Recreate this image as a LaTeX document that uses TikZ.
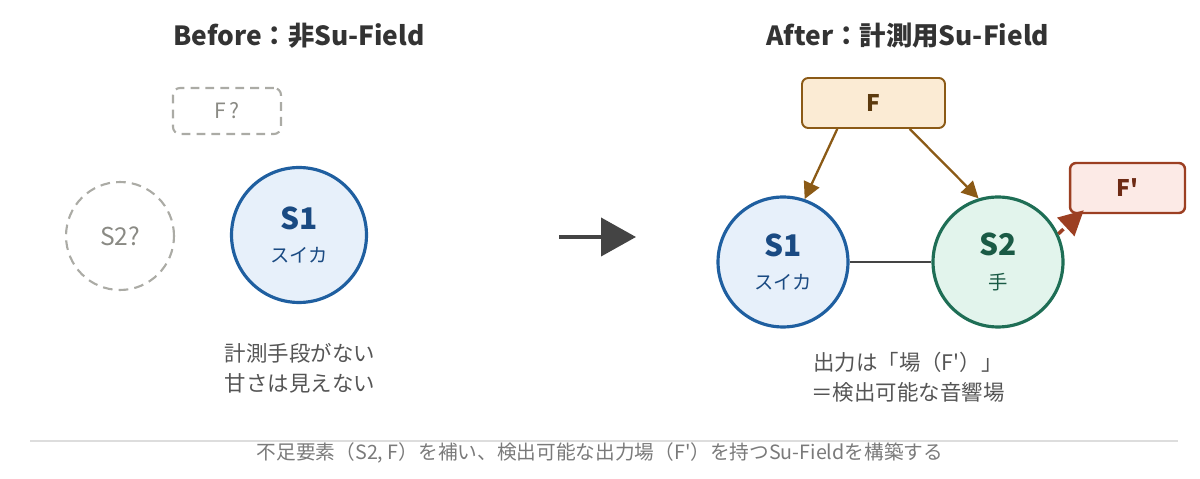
\documentclass[tikz,border=0pt]{standalone}
\usepackage{fontspec}
\setmainfont{Noto Sans CJK JP}[Ligatures=TeXOff]
\usetikzlibrary{calc, positioning, arrows.meta, shapes}

\definecolor{titlegray}{HTML}{333333}
\definecolor{ghost}{HTML}{ABABA5}
\definecolor{ghosttext}{HTML}{8A8A84}
\definecolor{sblue}{HTML}{1F5FA0}
\definecolor{sbluefill}{HTML}{E7F0FA}
\definecolor{sbluetext}{HTML}{1A4A82}
\definecolor{sgreen}{HTML}{1E6E55}
\definecolor{sgreenfill}{HTML}{E2F4EC}
\definecolor{sgreentext}{HTML}{1A5A45}
\definecolor{fbrown}{HTML}{8B5A16}
\definecolor{fbrownfill}{HTML}{FBEBD4}
\definecolor{fbrowntext}{HTML}{5C3A0E}
\definecolor{fred}{HTML}{9C3F22}
\definecolor{fredfill}{HTML}{FCEAE6}
\definecolor{fredtext}{HTML}{6E2A14}
\definecolor{notegray}{HTML}{555555}
\definecolor{footgray}{HTML}{7A7A7A}
\definecolor{rulegray}{HTML}{DDDDDD}
\definecolor{arrowgray}{HTML}{444444}

\tikzset{
  title/.style={font=\fontsize{15}{18}\selectfont\bfseries, text=titlegray},
  note/.style={font=\fontsize{12.2}{17}\selectfont, text=notegray, align=center},
  ghostbox/.style={rectangle, rounded corners=4pt, draw=ghost, line width=1.2pt,
    dash pattern=on 5pt off 3.5pt, minimum width=2.16cm, minimum height=0.92cm,
    text=ghosttext, font=\fontsize{12}{14}\selectfont},
  ghostcirc/.style={circle, draw=ghost, line width=1.2pt, dash pattern=on 5.5pt off 3.5pt,
    minimum size=2.16cm, inner sep=0pt, text=ghosttext, font=\fontsize{14}{16}\selectfont},
  bluecirc/.style={circle, draw=sblue, fill=sbluefill, line width=1.8pt, inner sep=0pt,
    text=sbluetext, align=center},
  greencirc/.style={circle, draw=sgreen, fill=sgreenfill, line width=1.8pt, inner sep=0pt,
    text=sgreentext, align=center},
  fbox/.style={rectangle, rounded corners=3.5pt, draw=fbrown, fill=fbrownfill, line width=1.1pt,
    minimum width=2.86cm, minimum height=1cm, text=fbrowntext, font=\fontsize{13}{15}\selectfont\bfseries},
  fpbox/.style={rectangle, rounded corners=3.5pt, draw=fred, fill=fredfill, line width=1.4pt,
    minimum width=2.3cm, minimum height=1cm, text=fredtext, font=\fontsize{13}{15}\selectfont\bfseries},
  farrow/.style={draw=fbrown, line width=1.3pt, -{Triangle[length=9.5pt, width=9.5pt]}},
  fparrow/.style={draw=fred, line width=2pt, dash pattern=on 4pt off 3pt,
    -{Triangle[length=14pt, width=14pt]}},
}

\newcommand{\slabel}[2]{{\fontsize{17}{19}\selectfont\bfseries #1}\\[7pt]{\fontsize{11}{13}\selectfont #2}}

\begin{document}
\begin{tikzpicture}[x=0.02cm, y=-0.02cm]
    \useasboundingbox (0,0) rectangle (1200,479);

    % Before
    \node[title] (TB) at (299,36) {Before：非Su-Field};
    \node[ghostbox] (FQ) at (227,111) {F\,?};
    \node[ghostcirc] (S2Q) at (120,236) {S2?};
    \node[bluecirc, minimum size=2.7cm] (S1L) at (299,235) {\slabel{S1}{スイカ}};
    \node[note] (NL) at (300,368) {計測手段がない\\甘さは見えない};

    % transition
    \coordinate (ArrS) at (559,237);
    \coordinate (ArrE) at (636,237);
    \draw[draw=arrowgray, line width=2.3pt, -{Triangle[length=0.7cm, width=0.76cm]}] (ArrS) -- (ArrE);

    % After
    \node[title] (TA) at (908,36) {After：計測用Su-Field};
    \node[fbox] (F) at (873.5,103) {F};
    \node[bluecirc, minimum size=2.6cm] (S1R) at (783,262) {\slabel{S1}{スイカ}};
    \node[greencirc, minimum size=2.6cm] (S2R) at (998,262) {\slabel{S2}{手}};
    \node[fpbox] (Fp) at (1127.5,188) {F'};
    \node[note] (NR) at (908,377) {出力は「場（F'）」\\＝検出可能な音響場};

    \draw[draw=arrowgray, line width=1.1pt] (S1R) -- (S2R);
    \draw[farrow] ($(F.south)!0.5!(F.south west)$) -- (S1R.71);
    \draw[farrow] ($(F.south)!0.5!(F.south east)$) -- (S2R.107);
    \draw[fparrow] (S2R.25) -- ($(Fp.south west)+(15,-4)$);

    % footer
    \coordinate (RuleL) at (30,441);
    \coordinate (RuleR) at (1178,441);
    \draw[draw=rulegray, line width=0.6pt] (RuleL) -- (RuleR);
    \node[font=\fontsize{11.2}{13}\selectfont, text=footgray] (Foot) at (600,453)
        {不足要素（S2, F）を補い、検出可能な出力場（F'）を持つSu-Fieldを構築する};
\end{tikzpicture}
\end{document}
